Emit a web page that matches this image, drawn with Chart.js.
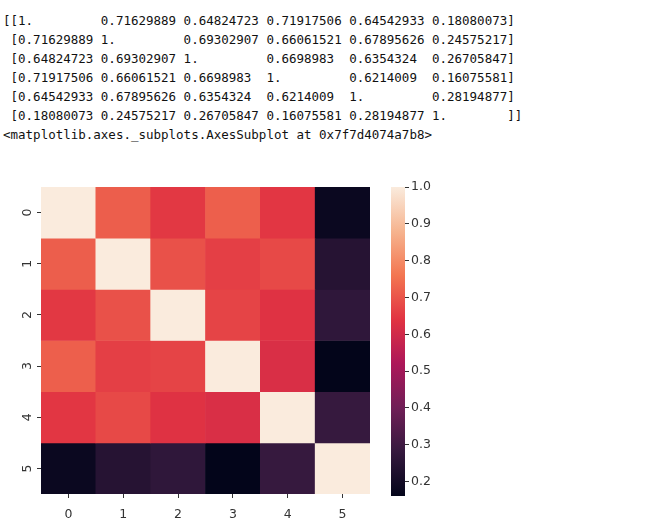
<!DOCTYPE html>
<html>
<head>
<meta charset="utf-8">
<script src="https://cdn.jsdelivr.net/npm/chart.js@4.4.0/dist/chart.umd.min.js"></script>
<style>
  body { margin: 0; background: #fff; width: 664px; height: 519px; position: relative; overflow: hidden; }
  #out { position: absolute; left: 3px; top: 12px; margin: 0; font: 12.5px "DejaVu Sans Mono", monospace; line-height: 18.9px; color: #111; white-space: pre; }
  #repr { position: absolute; left: 3px; top: 126px; margin: 0; font: 12.5px "DejaVu Sans Mono", monospace; line-height: 18.9px; color: #111; white-space: pre; }
  #heat { position: absolute; left: 0; top: 180px; }
  #cbar { position: absolute; left: 380px; top: 180px; }
</style>
</head>
<body>
<pre id="out"></pre>
<pre id="repr">&lt;matplotlib.axes._subplots.AxesSubplot at 0x7f7d4074a7b8&gt;</pre>
<canvas id="heat" width="380" height="339"></canvas>
<canvas id="cbar" width="70" height="339"></canvas>
<script>
// correlation matrix, one row per array
const row0 = [1, 0.71629889, 0.64824723, 0.71917506, 0.64542933, 0.18080073];
const row1 = [0.71629889, 1, 0.69302907, 0.66061521, 0.67895626, 0.24575217];
const row2 = [0.64824723, 0.69302907, 1, 0.6698983, 0.6354324, 0.26705847];
const row3 = [0.71917506, 0.66061521, 0.6698983, 1, 0.6214009, 0.16075581];
const row4 = [0.64542933, 0.67895626, 0.6354324, 0.6214009, 1, 0.28194877];
const row5 = [0.18080073, 0.24575217, 0.26705847, 0.16075581, 0.28194877, 1];
const rows = [row0, row1, row2, row3, row4, row5];
const colLabels = ['0', '1', '2', '3', '4', '5'];
const rowLabels = ['0', '1', '2', '3', '4', '5'];
const cbarTicks = [0.2, 0.3, 0.4, 0.5, 0.6, 0.7, 0.8, 0.9, 1.0];

// numpy-like printout
function fmt(v) {
  let s = v === 1 ? '1.' : String(v);
  return s.padEnd(10, ' ');
}
let lines = rows.map((r, i) => {
  let body = r.map(fmt).join(' ');
  if (i < rows.length - 1) body = body.trimEnd();
  return (i === 0 ? '[[' : ' [') + body + (i === rows.length - 1 ? ']]' : ']');
});
document.getElementById('out').textContent = lines.join('\n');

// seaborn "rocket" colormap (approx)
const rocket = [
  [0.0, [3, 5, 26]],
  [0.143, [53, 25, 62]],
  [0.286, [112, 31, 87]],
  [0.429, [173, 23, 89]],
  [0.571, [225, 51, 66]],
  [0.714, [243, 118, 81]],
  [0.857, [246, 180, 143]],
  [1.0, [250, 235, 221]]
];
function cmap(t) {
  t = Math.max(0, Math.min(1, t));
  for (let i = 1; i < rocket.length; i++) {
    if (t <= rocket[i][0]) {
      let a = rocket[i - 1], b = rocket[i];
      let f = (t - a[0]) / (b[0] - a[0]);
      let c = a[1].map((x, k) => Math.round(x + (b[1][k] - x) * f));
      return 'rgb(' + c.join(',') + ')';
    }
  }
  return 'rgb(250,235,221)';
}
const vmin = Math.min(...rows.flat());
const vmax = Math.max(...rows.flat());

const font = { family: 'DejaVu Sans', size: 12.5 };
const tickColor = '#333';

new Chart(document.getElementById('heat'), {
  type: 'bar',
  data: {
    labels: colLabels,
    datasets: rows.map((r, i) => ({
      data: r.map(() => [i, i + 1]),
      backgroundColor: r.map(v => cmap((v - vmin) / (vmax - vmin))),
      borderWidth: 0,
      grouped: false,
      barPercentage: 1,
      categoryPercentage: 1
    }))
  },
  options: {
    responsive: false,
    animation: false,
    devicePixelRatio: 1,
    layout: { padding: { top: 7, right: 10, left: 0, bottom: 0 } },
    plugins: { legend: { display: false }, tooltip: { enabled: false } },
    scales: {
      x: {
        grid: { display: true, offset: false, drawOnChartArea: false, drawTicks: true, tickLength: 4, color: tickColor },
        border: { display: false },
        ticks: { color: tickColor, font: font, padding: 9, maxRotation: 0 },
        afterFit: s => { s.height = 25; s.paddingLeft = 0; s.paddingRight = 0; }
      },
      y: {
        type: 'linear',
        min: 0, max: 6, reverse: true,
        afterBuildTicks: s => { s.ticks = rowLabels.map((l, i) => ({ value: i + 0.5 })); },
        grid: { display: true, drawOnChartArea: false, drawTicks: true, tickLength: 4, color: tickColor },
        border: { display: false },
        ticks: {
          color: tickColor, font: font, padding: 5,
          minRotation: 90, maxRotation: 90, crossAlign: 'center',
          callback: v => rowLabels[Math.floor(v)]
        },
        afterFit: s => { s.width = 41; s.paddingTop = 0; s.paddingBottom = 0; }
      }
    }
  }
});

new Chart(document.getElementById('cbar'), {
  type: 'bar',
  data: {
    labels: [''],
    datasets: [{
      data: [[vmin, vmax]],
      borderWidth: 0,
      barPercentage: 1,
      categoryPercentage: 1,
      backgroundColor: ctx => {
        const area = ctx.chart.chartArea;
        if (!area) return null;
        const g = ctx.chart.ctx.createLinearGradient(0, area.bottom, 0, area.top);
        rocket.forEach(s => g.addColorStop(s[0], 'rgb(' + s[1].join(',') + ')'));
        return g;
      }
    }]
  },
  options: {
    responsive: false,
    animation: false,
    devicePixelRatio: 1,
    layout: { padding: { top: 7, right: 0, left: 11, bottom: 23 } },
    plugins: { legend: { display: false }, tooltip: { enabled: false } },
    scales: {
      x: { display: false },
      y: {
        position: 'right',
        min: vmin, max: vmax,
        afterBuildTicks: s => { s.ticks = cbarTicks.map(v => ({ value: v })); },
        grid: { display: true, drawOnChartArea: false, drawTicks: true, tickLength: 4, color: tickColor },
        border: { display: false },
        ticks: { color: tickColor, font: font, padding: 2, callback: v => v.toFixed(1) },
        afterFit: s => { s.width = 45; s.paddingTop = 0; s.paddingBottom = 0; }
      }
    }
  }
});
</script>
</body>
</html>
